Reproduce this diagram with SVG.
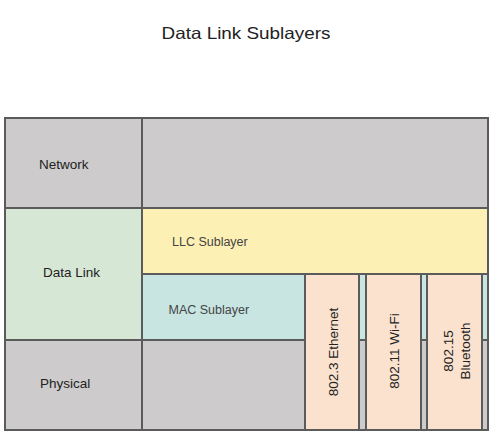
<svg xmlns="http://www.w3.org/2000/svg" width="498" height="445" viewBox="0 0 498 445">
<style>
.c{stroke:#5b5b5b;stroke-width:2}
.g{fill:#cdcbcc}.dl{fill:#d6e8d5}.llc{fill:#fdf0b5}.mac{fill:#c8e5e2}.p{fill:#fbe2cf}
text{font-family:"Liberation Sans",Arial,sans-serif;fill:#222}
.l{font-size:13.5px}
.s{font-size:12.5px;fill:#444}
.v{font-size:13.5px;text-anchor:middle}
</style>
<rect width="498" height="445" fill="#fff"/>
<text x="246" y="39" font-size="16.5" text-anchor="middle" textLength="169" lengthAdjust="spacingAndGlyphs">Data Link Sublayers</text>
<g id="network">
<rect class="c g" x="5" y="118" width="137" height="90"/>
<rect class="c g" x="142" y="118" width="346" height="90"/>
<text class="l" x="39" y="169">Network</text>
</g>
<g id="datalink">
<rect class="c dl" x="5" y="208" width="137" height="132"/>
<text class="l" x="43" y="277">Data Link</text>
</g>
<g id="llc">
<rect class="c llc" x="142" y="208" width="346" height="66"/>
<text class="s" x="172" y="246">LLC Sublayer</text>
</g>
<g id="mac">
<rect class="c mac" x="142" y="274" width="346" height="66"/>
<text class="s" x="168.5" y="314">MAC Sublayer</text>
</g>
<g id="physical">
<rect class="c g" x="5" y="340" width="137" height="90"/>
<rect class="c g" x="142" y="340" width="346" height="90"/>
<text class="l" x="40" y="388">Physical</text>
</g>
<g id="ethernet">
<rect class="c p" x="305" y="274" width="54" height="156"/>
<text class="v" transform="translate(338,352) rotate(-90)">802.3 Ethernet</text>
</g>
<g id="wifi">
<rect class="c p" x="366" y="274" width="55" height="156"/>
<text class="v" transform="translate(399,351) rotate(-90)">802.11 Wi-Fi</text>
</g>
<g id="bluetooth">
<rect class="c p" x="427" y="274" width="55" height="156"/>
<text class="v" transform="translate(453,351) rotate(-90)">802.15</text>
<text class="v" transform="translate(470,351) rotate(-90)">Bluetooth</text>
</g>
</svg>
